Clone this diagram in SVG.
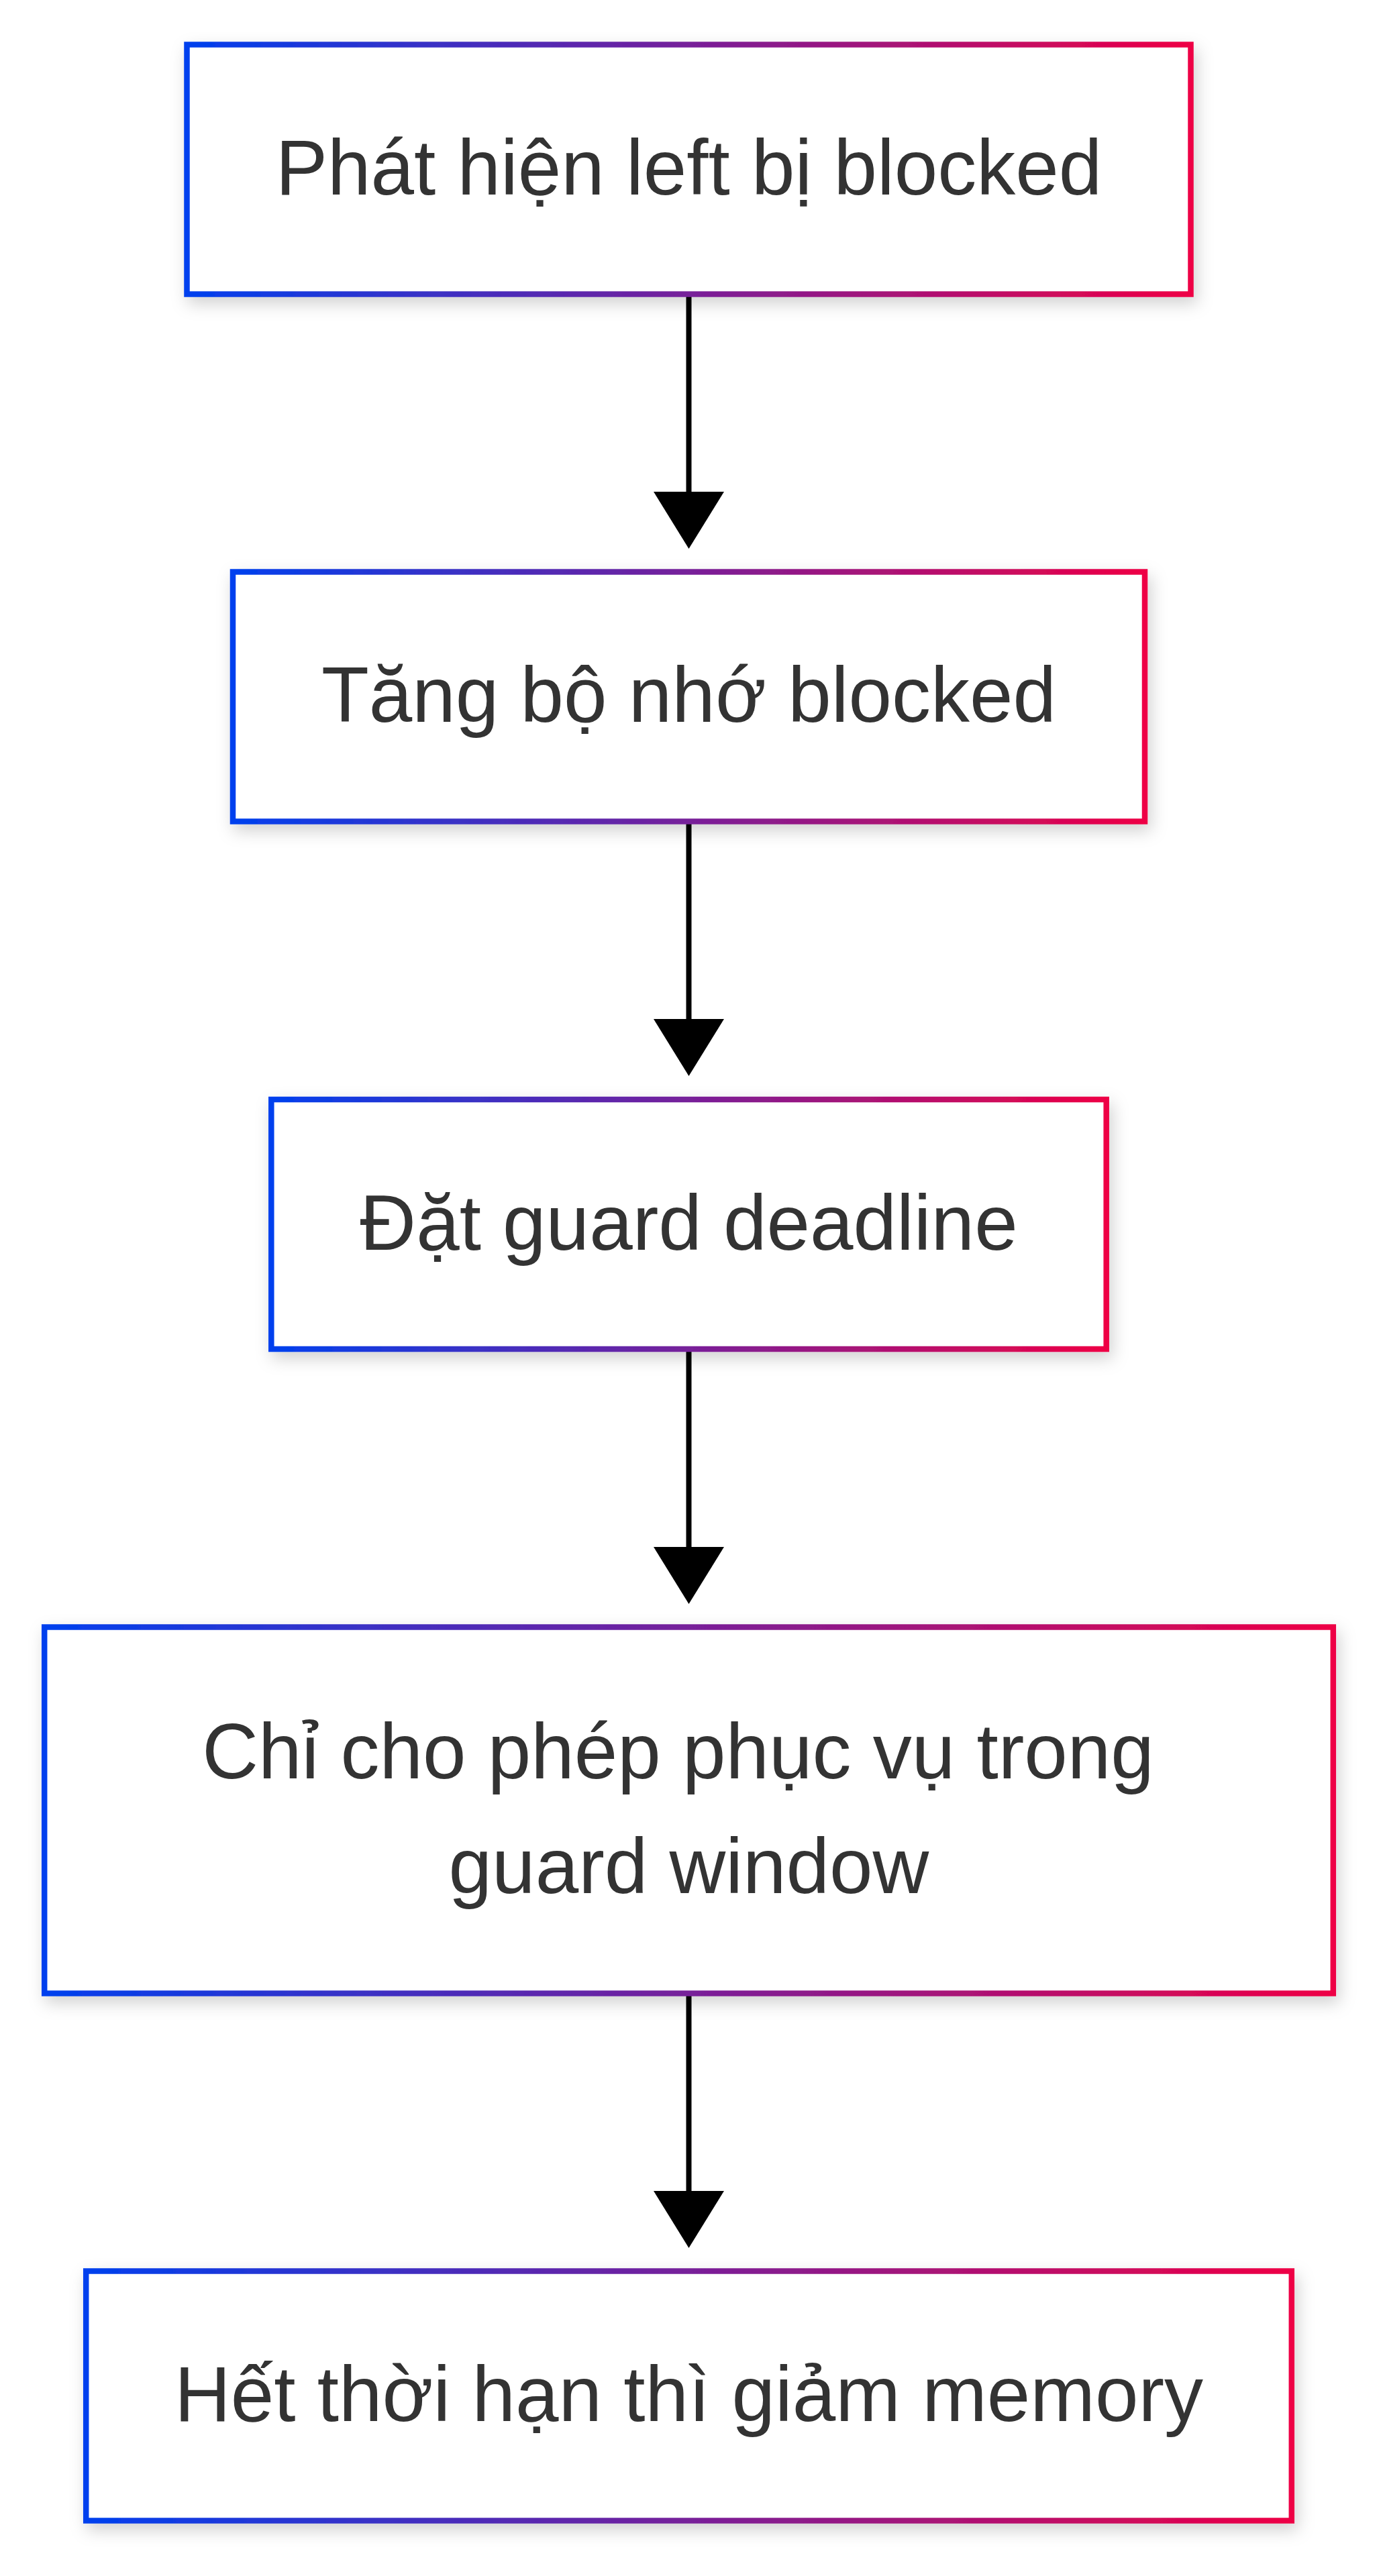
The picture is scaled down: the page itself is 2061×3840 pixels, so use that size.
<svg xmlns="http://www.w3.org/2000/svg" width="2061" height="3840" viewBox="0 0 2061 3840">
  <style>
    .node rect { fill: #ffffff; stroke: url(#edgeGrad); stroke-width: 8.5; filter: url(#shadow); }
    .node text { font-family: "Liberation Sans", Arial, sans-serif; font-size: 116px; fill: #333333; text-anchor: middle; }
    .edge { fill: none; stroke: #000000; stroke-width: 8; }
  </style>
  <defs>
    <linearGradient id="edgeGrad" x1="0" y1="0" x2="1" y2="0">
      <stop offset="0" stop-color="#0040ee"/>
      <stop offset="1" stop-color="#ee0045"/>
    </linearGradient>
    <filter id="shadow" x="-10%" y="-20%" width="120%" height="150%">
      <feDropShadow dx="5" dy="10" stdDeviation="12" flood-color="#000000" flood-opacity="0.18"/>
    </filter>
    <marker id="arrow" markerUnits="userSpaceOnUse" viewBox="0 -52.5 85 105" refX="0" refY="0" markerWidth="85" markerHeight="105" orient="auto">
      <path d="M0,-52.5 L85,0 L0,52.5 Z" fill="#000000"/>
    </marker>
  </defs>
  <rect width="2061" height="3840" fill="#ffffff"/>

  <g id="edges">
    <path class="edge" d="M1026.5,438.5 L1026.5,733" marker-end="url(#arrow)"/>
    <path class="edge" d="M1026.5,1224.5 L1026.5,1519" marker-end="url(#arrow)"/>
    <path class="edge" d="M1026.5,2011 L1026.5,2306" marker-end="url(#arrow)"/>
    <path class="edge" d="M1026.5,2971.5 L1026.5,3266" marker-end="url(#arrow)"/>
  </g>

  <g id="node1" class="node">
    <rect x="278.5" y="66.5" width="1496" height="372"/>
    <text x="1026.5" y="290">Phát hiện left bị blocked</text>
  </g>
  <g id="node2" class="node">
    <rect x="347" y="852.5" width="1359" height="372"/>
    <text x="1026.5" y="1076">Tăng bộ nhớ blocked</text>
  </g>
  <g id="node3" class="node">
    <rect x="404.3" y="1639" width="1244.4" height="372"/>
    <text x="1026.5" y="1862.5">Đặt guard deadline</text>
  </g>
  <g id="node4" class="node">
    <rect x="66.2" y="2425.5" width="1920.6" height="546"/>
    <text x="1010.5" y="2650.5">Chỉ cho phép phục vụ trong</text>
    <text x="1026.5" y="2821.5">guard window</text>
  </g>
  <g id="node5" class="node">
    <rect x="128.2" y="3385.5" width="1796.6" height="372"/>
    <text x="1026.5" y="3609">Hết thời hạn thì giảm memory</text>
  </g>
</svg>
